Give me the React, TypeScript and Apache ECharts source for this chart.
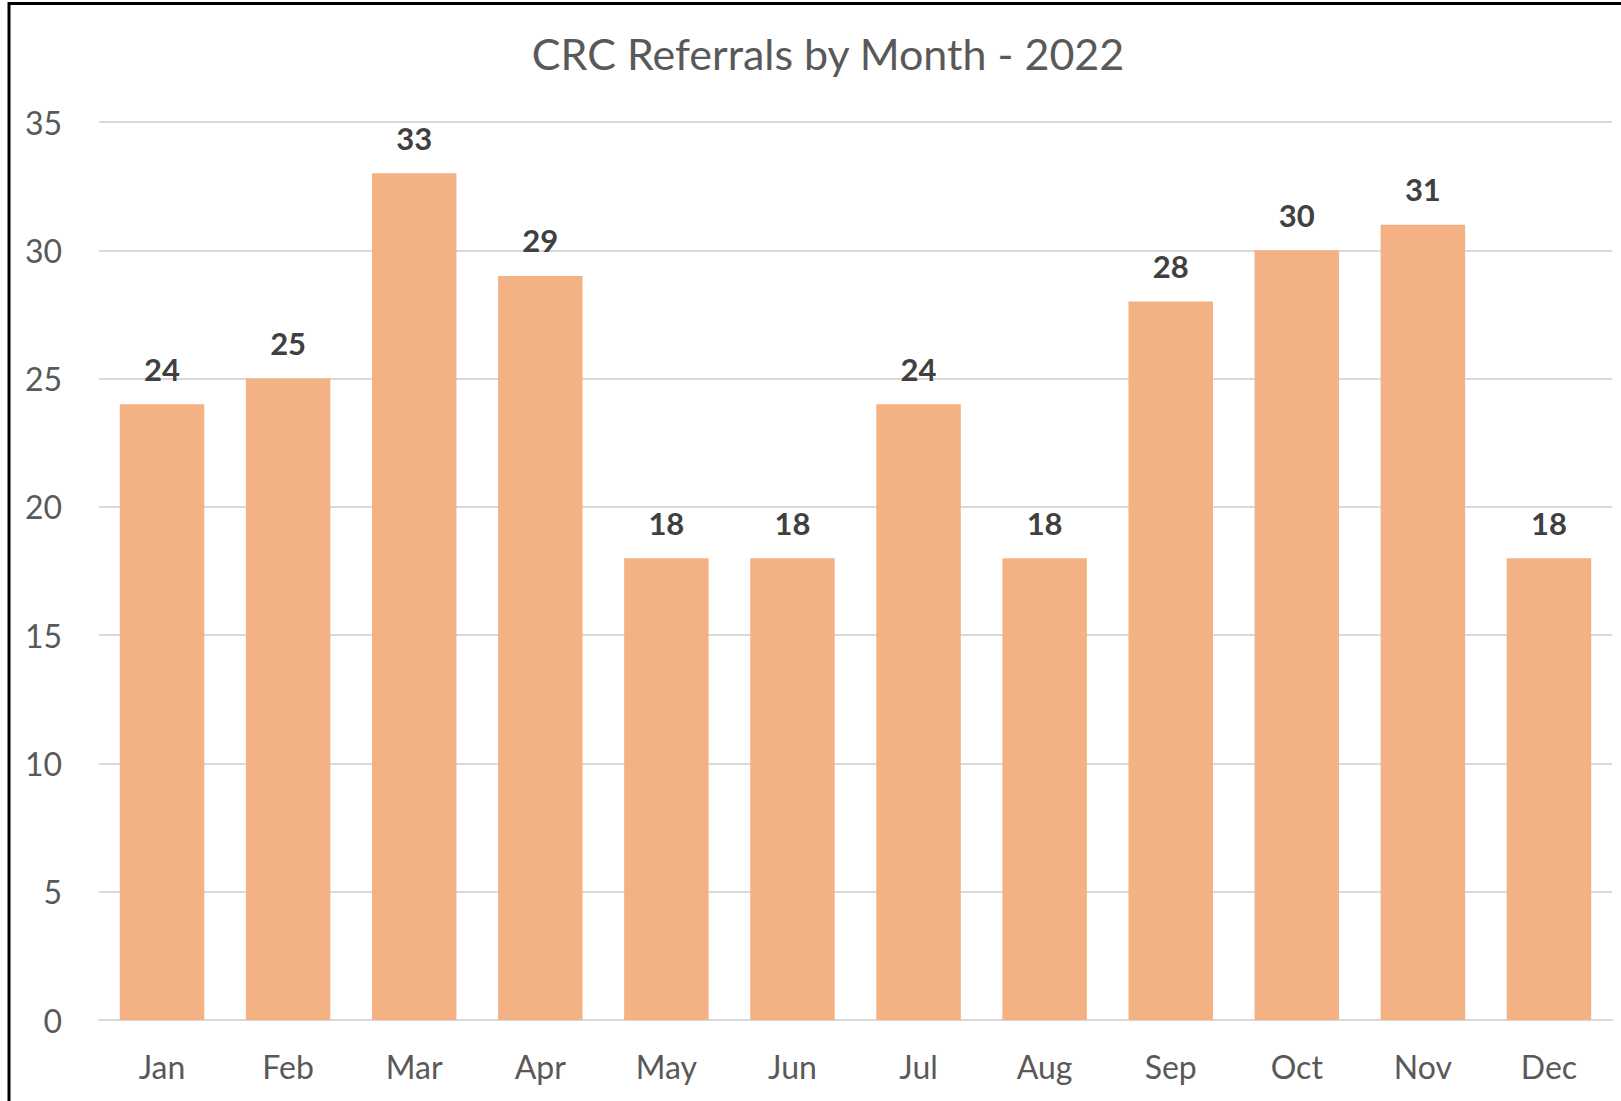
import React, { useEffect, useRef } from "react";
import * as echarts from "echarts";

const months = ["Jan", "Feb", "Mar", "Apr", "May", "Jun", "Jul", "Aug", "Sep", "Oct", "Nov", "Dec"];
const referrals = [24, 25, 33, 29, 18, 18, 24, 18, 28, 30, 31, 18];
const titleText = "CRC Referrals by Month - 2022";

const FONT = "Lato, 'Open Sans', sans-serif";

export default function App() {
  const ref = useRef<HTMLDivElement>(null);
  useEffect(() => {
    document.body.style.margin = "0";
    if (!ref.current) return;
    const chart = echarts.init(ref.current, null, { renderer: "svg" });
    chart.setOption({
      animation: false,
      backgroundColor: "#ffffff",
      title: {
        text: titleText,
        left: 823,
        textAlign: "center",
        top: 27,
        textStyle: { fontFamily: FONT, fontSize: 43, fontWeight: "normal", color: "#595959" },
      },
      grid: { left: 99, right: 9, top: 122, bottom: 81 },
      xAxis: {
        type: "category",
        data: months,
        axisLine: { show: true, lineStyle: { color: "#d9d9d9", width: 2 } },
        axisTick: { show: false },
        axisLabel: { fontFamily: FONT, fontSize: 32, color: "#595959", margin: 30 },
      },
      yAxis: {
        type: "value",
        min: 0,
        max: 35,
        interval: 5,
        axisLine: { show: false },
        axisTick: { show: false },
        splitLine: { lineStyle: { color: "#d9d9d9", width: 2 } },
        axisLabel: { fontFamily: FONT, fontSize: 32, color: "#595959", margin: 37 },
      },
      series: [
        {
          type: "bar",
          data: referrals,
          barCategoryGap: "33%",
          itemStyle: { color: "#F4B183" },
          label: {
            show: true,
            position: "top",
            distance: 20,
            fontFamily: FONT,
            fontSize: 31,
            fontWeight: "bold",
            color: "#404040",
          },
        },
      ],
      graphic: [
        {
          type: "rect",
          shape: { x: 9, y: 3.5, width: 1700, height: 1200 },
          style: { fill: "none", stroke: "#000000", lineWidth: 3 },
          silent: true,
        },
      ],
    });
    return () => chart.dispose();
  }, []);
  return <div ref={ref} style={{ width: 1621, height: 1101 }} />;
}
